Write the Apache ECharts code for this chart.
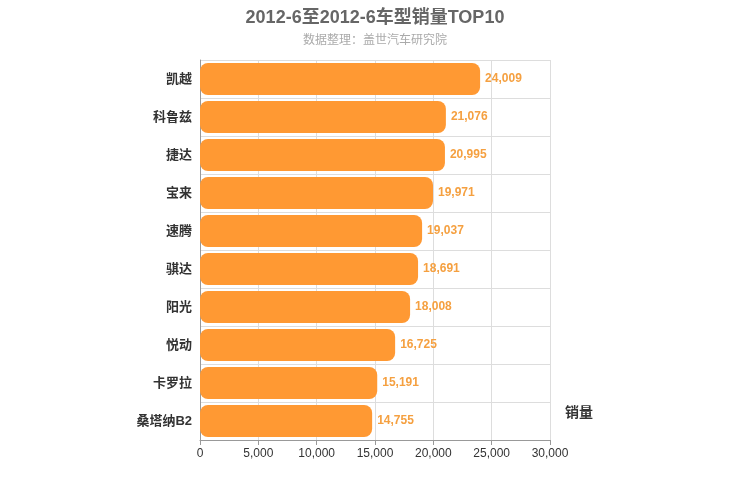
<!DOCTYPE html>
<html>
<head>
<meta charset="utf-8">
<script src="https://cdn.jsdelivr.net/npm/echarts@6/dist/echarts.min.js"></script>
<style>html,body{margin:0;padding:0;background:#fff}#main{width:750px;height:500px}</style>
</head>
<body>
<div id="main"></div>
<script>
// 车型 (从下到上)
var models = ['桑塔纳B2', '卡罗拉', '悦动', '阳光', '骐达', '速腾', '宝来', '捷达', '科鲁兹', '凯越'];
var sales = [14755, 15191, 16725, 18008, 18691, 19037, 19971, 20995, 21076, 24009];

var chart = echarts.init(document.getElementById('main'));
var font = '"Helvetica Neue", Arial, "Noto Sans CJK SC", sans-serif';
chart.setOption({
  animation: false,
  textStyle: { fontFamily: font },
  title: {
    text: '2012-6至2012-6车型销量TOP10',
    subtext: '数据整理：盖世汽车研究院',
    left: 'center',
    top: 4,
    itemGap: 8,
    textStyle: { fontSize: 18, fontWeight: 'bold', color: '#666', fontFamily: font },
    subtextStyle: { fontSize: 12, color: '#aaa', fontFamily: font }
  },
  grid: { left: 200, right: 200, top: 60, bottom: 60 },
  xAxis: {
    type: 'value',
    min: 0,
    max: 30000,
    interval: 5000,
    name: '销量',
    nameLocation: 'end',
    nameGap: 15,
    nameTextStyle: { fontSize: 14, fontWeight: 'bold', color: '#333', verticalAlign: 'bottom', padding: [0, 0, 20, 0] },
    axisLine: { show: true, lineStyle: { color: '#999' } },
    axisTick: { show: true, lineStyle: { color: '#999' } },
    axisLabel: { color: '#333', fontSize: 12, formatter: function (v) { return v.toLocaleString('en-US'); } },
    splitLine: { lineStyle: { color: '#ddd' } }
  },
  yAxis: {
    type: 'category',
    data: models,
    axisLine: { lineStyle: { color: '#999' } },
    axisTick: { show: false },
    axisLabel: { color: '#333', fontSize: 13, fontWeight: 'bold' },
    splitLine: { show: true, lineStyle: { color: '#ddd' } }
  },
  series: [{
    type: 'bar',
    data: sales,
    barWidth: 32,
    itemStyle: { color: '#FF9933', borderRadius: 8 },
    label: {
      show: true,
      position: 'right',
      color: '#F5A040',
      fontWeight: 'bold',
      fontSize: 12,
      formatter: function (p) { return p.value.toLocaleString('en-US'); }
    }
  }]
});
</script>
</body>
</html>
